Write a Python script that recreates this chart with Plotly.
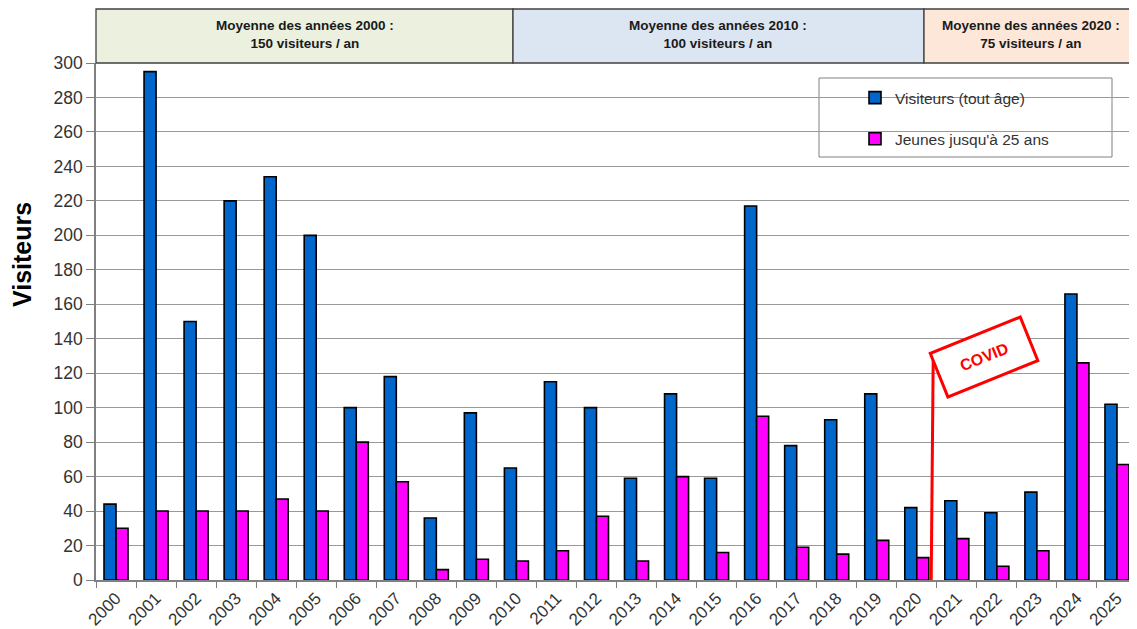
import plotly.graph_objects as go

years = [str(y) for y in range(2000, 2026)]
visiteurs = [44, 295, 150, 220, 234, 200, 100, 118, 36, 97,
             65, 115, 100, 59, 108, 59, 217, 78, 93, 108,
             42, 46, 39, 51, 166, 102]
jeunes = [30, 40, 40, 40, 47, 40, 80, 57, 6, 12,
          11, 17, 37, 11, 60, 16, 95, 19, 15, 23,
          13, 24, 8, 17, 126, 67]
series_names = ["Visiteurs (tout âge)", "Jeunes jusqu'à 25 ans"]
banner_texts = ["Moyenne des années 2000 :<br>150 visiteurs / an",
                "Moyenne des années 2010 :<br>100 visiteurs / an",
                "Moyenne des années 2020 :<br>75 visiteurs / an"]
banner_colors = ["#EBF0DF", "#DCE5F2", "#FCE7D9"]

# page body has an 8px default margin: compensate so the figure fills the window
OFF = 8
SW, SH = 1137, 629                     # screen size
PL, PR, PT, PB = 96, 1137, 63, 580     # plot area in screen pixels
W, H = SW - OFF, SH - OFF
pw, ph = PR - PL, PB - PT

def px(x):
    return (x - PL) / pw

def py(y):
    return (PB - y) / ph

FONT = "Liberation Sans, Arial"

fig = go.Figure()
fig.add_trace(go.Bar(x=years, y=visiteurs, name=series_names[0], legendgroup="a",
                     marker=dict(color="#0066CC", line=dict(color="black", width=1.6))))
fig.add_trace(go.Bar(x=years, y=jeunes, name=series_names[1], legendgroup="b",
                     marker=dict(color="#FF00FF", line=dict(color="black", width=1.6))))

shapes = []
annotations = []
edges = [96, 513, 924, 1140]
for i in range(3):
    shapes.append(dict(type="rect", xref="paper", yref="paper",
                       x0=px(edges[i]), x1=px(edges[i + 1]), y0=py(63), y1=py(9),
                       fillcolor=banner_colors[i], line=dict(color="#404040", width=1.3),
                       layer="above"))
    annotations.append(dict(xref="paper", yref="paper",
                            x=(px(edges[i]) + px(min(edges[i + 1], 1137))) / 2,
                            y=py(35), text="<b>" + banner_texts[i] + "</b>", showarrow=False,
                            font=dict(family=FONT, size=13.5, color="#1a1a1a"),
                            xanchor="center", yanchor="middle"))
# legend frame
shapes.append(dict(type="rect", xref="paper", yref="paper",
                   x0=px(819), x1=px(1112), y0=py(157), y1=py(78),
                   fillcolor="white", line=dict(color="#808080", width=1), layer="between"))
# COVID pointer line
shapes.append(dict(type="line", xref="x", yref="y", x0=20.36, x1=20.41, y0=0, y1=128,
                   line=dict(color="red", width=3), layer="above"))
annotations.append(dict(xref="x", yref="y", x=21.68, y=129.5, text="<b>COVID</b>",
                        showarrow=False, textangle=-22,
                        font=dict(family=FONT, size=16, color="red"),
                        bgcolor="white", bordercolor="red", borderwidth=3,
                        width=92, height=42, align="center", valign="middle"))
annotations.append(dict(xref="paper", yref="paper", x=px(22), y=py(255), text="<b>Visiteurs</b>",
                        showarrow=False, textangle=-90,
                        font=dict(family=FONT, size=25, color="black"),
                        xanchor="center", yanchor="middle"))

fig.update_layout(
    width=W, height=H,
    margin=dict(l=PL - OFF, r=SW - PR, t=PT - OFF, b=SH - PB, autoexpand=False),
    paper_bgcolor="white", plot_bgcolor="white",
    barmode="group", bargap=0.4, bargroupgap=0,
    font=dict(family=FONT, color="#333333"),
    shapes=shapes, annotations=annotations,
    legend=dict(x=px(855), y=py(81), xanchor="left", yanchor="top",
                bgcolor="rgba(0,0,0,0)", borderwidth=0, tracegroupgap=18,
                font=dict(family=FONT, size=15.5, color="#333333")),
    xaxis=dict(type="category", tickson="boundaries", ticks="outside", ticklen=6,
               tickcolor="#808080", tickangle=-45, showline=True, linecolor="#808080",
               linewidth=1.5, showgrid=False, automargin=False,
               tickfont=dict(size=17, color="#333333")),
    yaxis=dict(range=[0, 300], dtick=20, ticks="outside", ticklen=8, tickcolor="#808080",
               showline=True, linecolor="#808080", linewidth=1.5, showgrid=True,
               gridcolor="#999999", gridwidth=1, zeroline=False, automargin=False,
               tickfont=dict(size=17.5, color="#333333")),
)
fig.write_html("out.html")
